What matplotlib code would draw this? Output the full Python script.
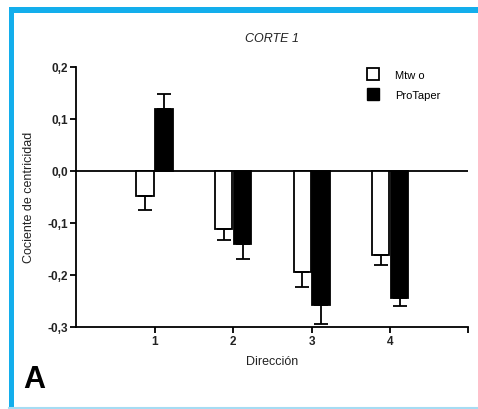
import numpy as np
import matplotlib
matplotlib.use("Agg")
import matplotlib.pyplot as plt
from matplotlib.patches import Rectangle
from matplotlib.lines import Line2D


# data
directions = [1, 2, 3, 4]
mtwo_mean = [-0.048, -0.112, -0.194, -0.161]
mtwo_err = [0.027, 0.021, 0.030, 0.021]
protaper_mean = [0.119, -0.140, -0.258, -0.244]
protaper_err = [0.029, 0.030, 0.036, 0.017]
y_ticks = [0.2, 0.1, 0.0, -0.1, -0.2, -0.3]
y_tick_labels = ["0,2", "0,1", "0,0", "-0,1", "-0,2", "-0,3"]

plt.rcParams["font.family"] = ["Liberation Sans", "DejaVu Sans"]

W, H = 478, 410
fig = plt.figure(figsize=(W / 100, H / 100), dpi=100)
fig.patch.set_facecolor("white")

ax = fig.add_axes([76 / W, 1 - 327.7 / H, (468 - 76) / W, (327.7 - 68) / H])

x = np.array(directions, dtype=float)
width = 0.22
off = 0.12


def one_sided(means, errs):
    lo = [e if m < 0 else 0 for m, e in zip(means, errs)]
    hi = [e if m >= 0 else 0 for m, e in zip(means, errs)]
    return [lo, hi]


ax.bar(x - off, mtwo_mean, width, color="white", edgecolor="black", linewidth=1.3,
       yerr=one_sided(mtwo_mean, mtwo_err), capsize=5,
       error_kw=dict(elinewidth=1.3, capthick=1.3, ecolor="black"), zorder=3)
ax.bar(x + off, protaper_mean, width, color="black", edgecolor="black", linewidth=1.3,
       yerr=one_sided(protaper_mean, protaper_err), capsize=5,
       error_kw=dict(elinewidth=1.3, capthick=1.3, ecolor="black"), zorder=3)

ax.axhline(0, color="black", linewidth=1.3, zorder=2)

ax.set_xlim(0, 4.99)
ax.set_ylim(-0.3, 0.2)
ax.spines["top"].set_visible(False)
ax.spines["right"].set_visible(False)
ax.spines["left"].set_linewidth(1.3)
ax.spines["bottom"].set_linewidth(1.3)

ax.set_xticks([1, 2, 3, 4, 4.99])
ax.set_xticklabels(["1", "2", "3", "4", ""])
ax.set_yticks(y_ticks)
ax.set_yticklabels(y_tick_labels)
ax.tick_params(axis="both", length=4, width=1.3, labelsize=8.5, pad=2)
for lab in ax.get_xticklabels() + ax.get_yticklabels():
    lab.set_fontweight("bold")
    lab.set_color("#222222")

ax.set_xlabel("Dirección", fontsize=9, labelpad=6, color="#222222")
ax.set_ylabel("Cociente de centricidad", fontsize=9, labelpad=9, color="#222222")
ax.set_title("CORTE 1", fontsize=9, fontstyle="italic", pad=19, color="#222222")

handles = [Rectangle((0, 0), 1, 1, facecolor="white", edgecolor="black", linewidth=1.3),
           Rectangle((0, 0), 1, 1, facecolor="black", edgecolor="black")]
ax.legend(handles, ["Mtw o", "ProTaper"], loc="upper left", bbox_to_anchor=(0.717, 1.035),
          frameon=False, fontsize=8, handlelength=1.05, handleheight=1.3,
          handletextpad=1.5, labelspacing=0.75)

# panel letter
fig.text(23 / W, 1 - 395 / H, "A", fontsize=22, fontweight="bold", ha="left", va="bottom")

# blue frame
fig.add_artist(Rectangle((9 / W, 1 - 13.5 / H), 1 - 9 / W, 5.5 / H, transform=fig.transFigure,
                         facecolor="#13aeec", edgecolor="none"))
fig.add_artist(Rectangle((9 / W, 1 - 408 / H), 4.5 / W, 400 / H, transform=fig.transFigure,
                         facecolor="#13aeec", edgecolor="none"))
fig.add_artist(Line2D([9 / W, 1], [1 - 408.5 / H, 1 - 408.5 / H], transform=fig.transFigure,
                      color="#a6dcf3", linewidth=1.5))

fig.savefig("out.png", dpi=100)
